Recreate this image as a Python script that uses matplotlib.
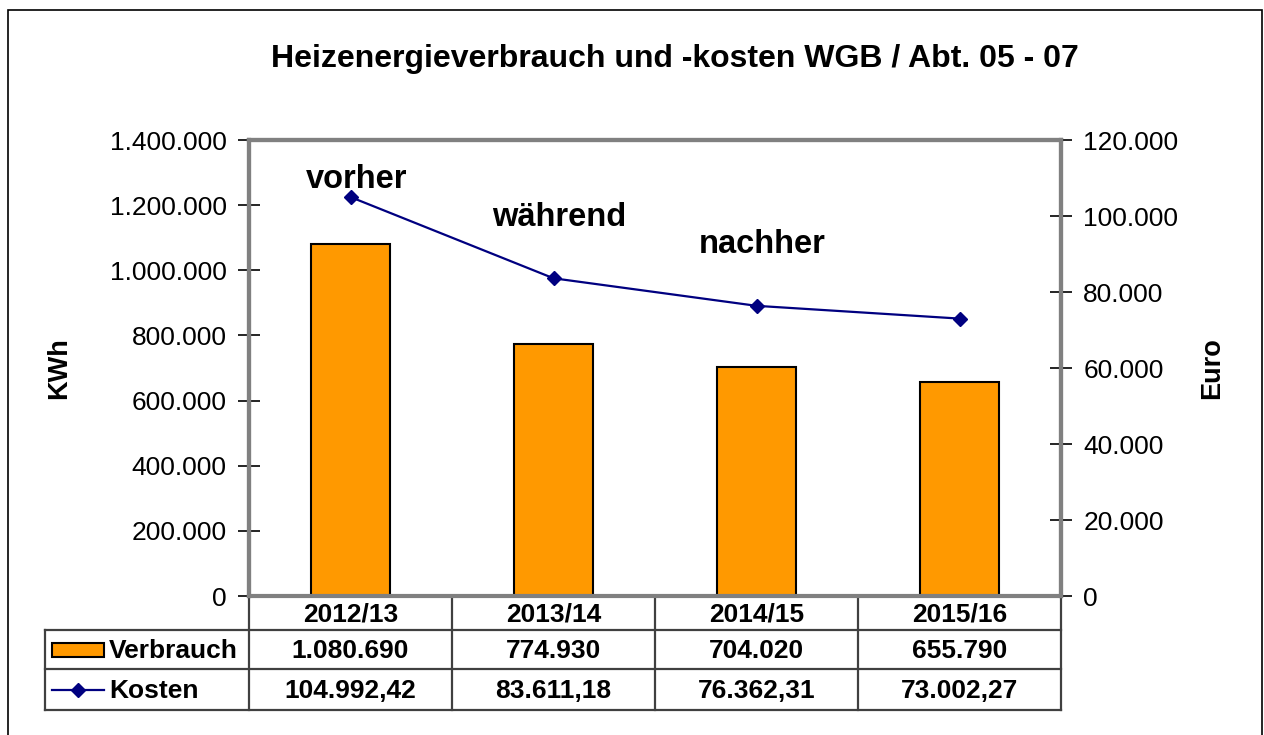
import matplotlib
matplotlib.use("Agg")
import matplotlib.pyplot as plt
from matplotlib.patches import Rectangle
from matplotlib.lines import Line2D
from matplotlib.ticker import FuncFormatter

plt.rcParams['font.family'] = ['Liberation Sans', 'DejaVu Sans']

# data
jahre = ["2012/13", "2013/14", "2014/15", "2015/16"]
verbrauch = [1080690, 774930, 704020, 655790]
kosten = [104992.42, 83611.18, 76362.31, 73002.27]
verbrauch_txt = ["1.080.690", "774.930", "704.020", "655.790"]
kosten_txt = ["104.992,42", "83.611,18", "76.362,31", "73.002,27"]
phasen = ["vorher", "während", "nachher"]

W, H = 1264, 735
fig = plt.figure(figsize=(W / 100, H / 100), dpi=100)

# outer frame
fig.patches.append(Rectangle((8 / W, -0.01), (1262 - 8) / W, (H - 10) / H + 0.01,
                             transform=fig.transFigure, fill=False,
                             edgecolor="black", linewidth=1.2))

left, right, top, bottom = 249, 1061, 140, 596
ax = fig.add_axes([left / W, (H - bottom) / H, (right - left) / W, (bottom - top) / H])
ax2 = ax.twinx()

x = range(len(jahre))
ax.bar(x, verbrauch, width=0.39, color="#FF9900", edgecolor="black", linewidth=1.5, zorder=2)
ax2.plot(x, kosten, color="#000080", marker="D", markersize=7, linewidth=1.6, zorder=3)

ax.set_xlim(-0.5, 3.5)
ax.set_ylim(0, 1400000)
ax2.set_ylim(0, 120000)
ax.set_yticks(range(0, 1400001, 200000))
ax2.set_yticks(range(0, 120001, 20000))
fmt = FuncFormatter(lambda v, p: f"{int(v):,}".replace(",", "."))
ax.yaxis.set_major_formatter(fmt)
ax2.yaxis.set_major_formatter(fmt)
ax.set_xticks([])

for a in (ax, ax2):
    for s in a.spines.values():
        s.set_color("#808080")
        s.set_linewidth(3)
    a.tick_params(axis="y", direction="inout", length=16, width=1.2, color="black",
                  labelsize=19, pad=8)
ax.spines["bottom"].set_color("#606060")
ax.spines["bottom"].set_linewidth(2)

ax.set_ylabel("KWh", fontsize=19.5, fontweight="bold", labelpad=27)
ax2.set_ylabel("Euro", fontsize=19.5, fontweight="bold", labelpad=15)

# phase labels
phase_y = [1278000, 1163000, 1078000]
for i, (t, yy) in enumerate(zip(phasen, phase_y)):
    ax.text(i + 0.03, yy, t, fontsize=23.5, fontweight="bold", ha="center", va="center")

fig.text(675 / W, 1 - 59 / H, "Heizenergieverbrauch und -kosten WGB / Abt. 05 - 07",
         fontsize=23, fontweight="bold", ha="center", va="center")

# data table below the axes
ah = bottom - top
rows = [596, 630, 669, 710]
ry = [-(r - bottom) / ah for r in rows]
tr = ax.get_xaxis_transform()
lc = "#404040"
lw = 1.6
leg_x = (45 - left) / (right - left) * 4 - 0.5
# horizontal lines
for k, yy in enumerate(ry):
    x0 = -0.5 if k == 0 else leg_x
    ax.add_line(Line2D([x0, 3.5], [yy, yy], transform=tr, color=lc, lw=lw, clip_on=False))
# vertical lines
for xv in [-0.5, 0.5, 1.5, 2.5, 3.5]:
    ax.add_line(Line2D([xv, xv], [ry[0], ry[3]], transform=tr, color=lc, lw=lw, clip_on=False))
ax.add_line(Line2D([leg_x, leg_x], [ry[1], ry[3]], transform=tr, color=lc, lw=lw, clip_on=False))

mid = [(ry[k] + ry[k + 1]) / 2 for k in range(3)]
tmid = [m - 2 / ah for m in mid]
for i in x:
    ax.text(i, tmid[0], jahre[i], transform=tr, ha="center", va="center",
            fontsize=19, fontweight="bold")
    ax.text(i, tmid[1], verbrauch_txt[i], transform=tr, ha="center", va="center",
            fontsize=19, fontweight="bold")
    ax.text(i, tmid[2], kosten_txt[i], transform=tr, ha="center", va="center",
            fontsize=19, fontweight="bold")

# legend keys in table
kx0 = leg_x + 7 / 203
kx1 = leg_x + 59 / 203
kh = 14 / ah
ax.add_patch(Rectangle((kx0, mid[1] - kh / 2), kx1 - kx0, kh, transform=tr,
                       facecolor="#FF9900", edgecolor="black", lw=1.5, clip_on=False))
ax.add_line(Line2D([kx0, kx1], [mid[2], mid[2]], transform=tr, color="#000080", lw=1.6,
                   clip_on=False))
ax.add_line(Line2D([(kx0 + kx1) / 2], [mid[2]], transform=tr, color="#000080", marker="D",
                   markersize=7, clip_on=False))
ax.text(kx1 + 5 / 203, tmid[1], "Verbrauch", transform=tr, ha="left", va="center",
        fontsize=19, fontweight="bold")
ax.text(kx1 + 5 / 203, tmid[2], "Kosten", transform=tr, ha="left", va="center",
        fontsize=19, fontweight="bold")

fig.savefig("out.png", dpi=100)
